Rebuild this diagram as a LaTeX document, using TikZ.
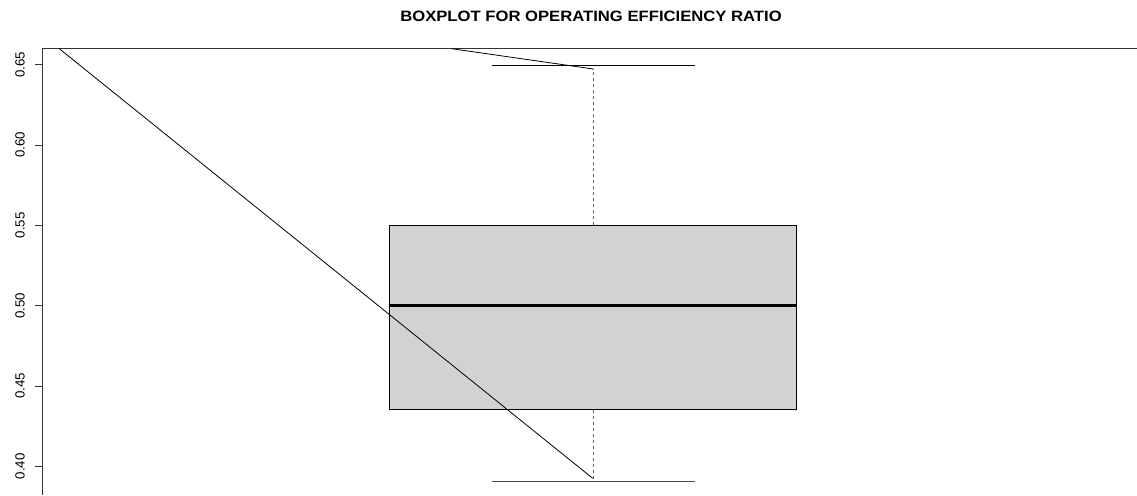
\documentclass[tikz,border=0pt]{standalone}
\usepackage{fontspec}
\setmainfont{Liberation Sans}
\begin{document}
\begin{tikzpicture}[x=1pt,y=-1pt,
  axisline/.style={line width=1pt,black!80},
  tick/.style={line width=1pt,black!80},
  ticklabel/.style={font=\fontsize{13.3}{15}\selectfont,rotate=90,inner sep=0pt,anchor=center},
  whisker/.style={line width=0.9pt,black},
  stem/.style={line width=0.9pt,black!60,dash pattern=on 3.5pt off 2.5pt},
  trend/.style={line width=0.8pt,black}]
\useasboundingbox (0,0) rectangle (1137,495);

% title
\node[font=\bfseries\fontsize{15}{17}\selectfont,xscale=1.11,inner sep=0pt] (title) at (591,16.3) {BOXPLOT FOR OPERATING EFFICIENCY RATIO};

% plot frame: top edge and y axis
\draw[axisline] (1137,48.7) -- (42.5,48.7) -- (42.5,495);

% y ticks and labels
\foreach \v/\y in {0.65/64.7,0.60/145.0,0.55/225.3,0.50/305.7,0.45/386.0,0.40/466.3}{
  \draw[tick] (35,\y) -- (42.5,\y);
  \node[ticklabel] at (20,\y) {\v};
}

% box
\fill[gray!35] (389.3,225.3) rectangle (796.7,409.5);
\draw[line width=1pt] (389.3,225.3) rectangle (796.7,409.5);
\draw[line width=2.6pt] (389.3,305.5) -- (796.7,305.5);

% whiskers
\draw[stem] (593,225.3) -- (593,69);
\draw[stem] (593,409.5) -- (593,480);
\draw[whisker] (491.7,65) -- (695,65);
\draw[whisker,black!70] (491.7,481.7) -- (695,481.7);

% overlaid line segments
\coordinate (p1) at (59.3,48.7);
\coordinate (p2) at (592.7,478.3);
\coordinate (q1) at (451.7,48.7);
\coordinate (q2) at (593.3,69);
\draw[trend] (p1) -- (p2);
\draw[trend] (q1) -- (q2);
\end{tikzpicture}
\end{document}
